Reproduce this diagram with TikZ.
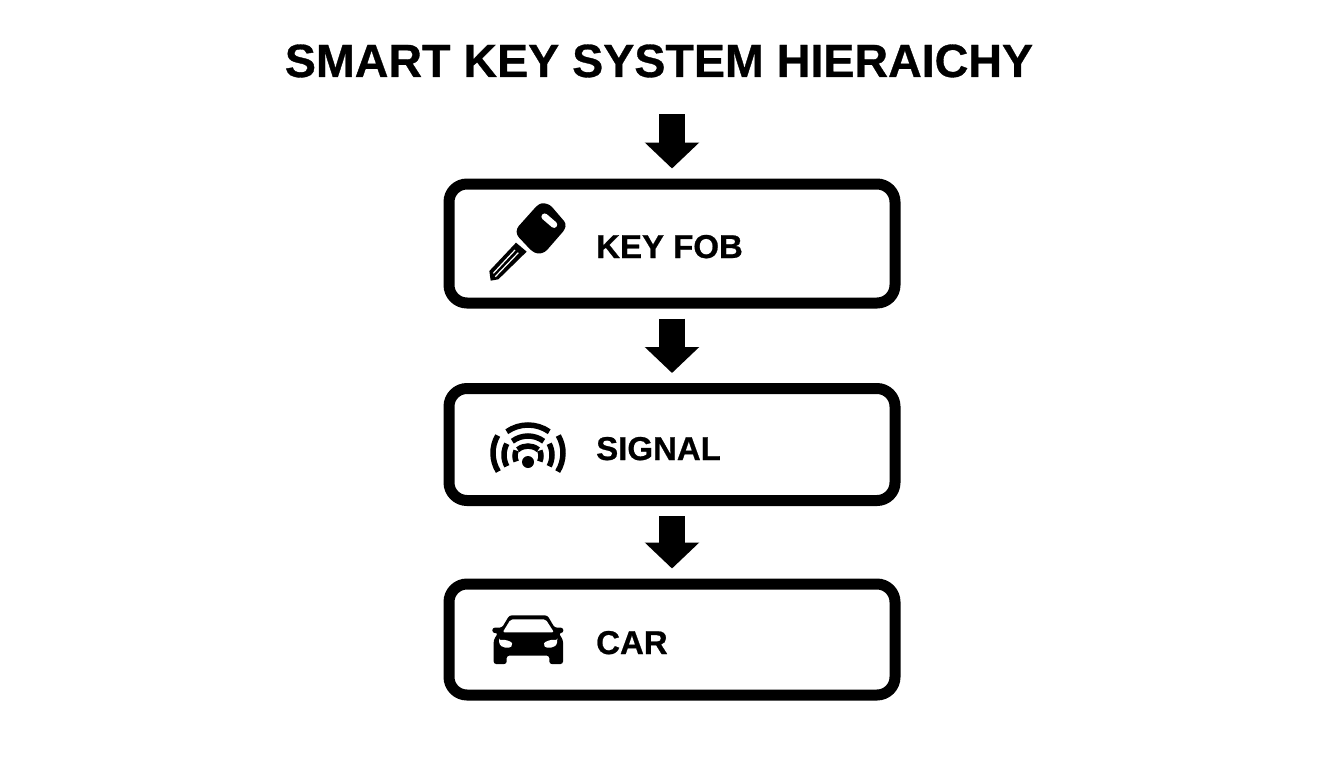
\documentclass[tikz,border=0pt]{standalone}
\usepackage{fontspec}
\setmainfont{Liberation Sans}[BoldFeatures={FakeBold=0.7}]
\usetikzlibrary{arrows.meta}
\tikzset{
  stagebox/.style={draw=black,fill=white,line width=11pt,rounded corners=18pt,minimum width=446pt,inner sep=0pt},
  flowarrow/.style={line width=26pt,draw=black,-{Triangle[width=53pt,length=26pt]},shorten >=10pt,shorten <=10pt},
  boxlabel/.style={anchor=base west,inner sep=0pt,font=\fontsize{33}{36}\selectfont\bfseries},
  wave/.style={draw=black,line width=5.5pt}
}
\begin{document}
\begin{tikzpicture}[x=1pt,y=-1pt]
\useasboundingbox (0,0) rectangle (1344,768);
\fill[white] (0,0) rectangle (1344,768);
\node[anchor=base,inner sep=0pt,font=\fontsize{46.6}{50}\selectfont\bfseries] (title) at (659,77) {SMART KEY SYSTEM HIERAICHY};
\node[stagebox,minimum height=119pt] (fob) at (672,243.5) {};
\node[stagebox,minimum height=112pt] (signal) at (672,444.5) {};
\node[stagebox,minimum height=111pt] (car) at (672,639.5) {};
\coordinate (start) at (672,104);
\draw[flowarrow] (start) -- (fob.north);
\draw[flowarrow] (fob.south) -- (signal.north);
\draw[flowarrow] (signal.south) -- (car.north);
\node[boxlabel] (l1) at (596,258) {KEY FOB};
\node[boxlabel] (l2) at (596,460) {SIGNAL};
\node[boxlabel] (l3) at (596,654) {CAR};
% key
\begin{scope}[shift={(470,190)},scale=1/3]
\fill[black] (58,243) -- (138,158) -- (170,185) -- (85,268) -- (62,272) -- cycle;
\fill[black,rounded corners=3pt] (215,38) -- (240,44) -- (288,100) -- (285,118) -- (225,187) -- (203,192) -- (185,183) -- (140,135) -- (140,115) -- (200,48) -- cycle;
\draw[white,line width=1.2pt] (70,250) -- (135,180);
\draw[white,line width=1.2pt] (76,260) -- (145,188);
\draw[white,line width=6.5pt,line cap=round] (224,80) -- (252,104);
\end{scope}
% signal
\draw[wave] (528,462) ++(-55:37) arc[start angle=-55,end angle=-125,radius=37];
\draw[wave] (528,462) ++(-53:26) arc[start angle=-53,end angle=-127,radius=26];
\draw[wave] (528,462) ++(-50:16) arc[start angle=-50,end angle=-130,radius=16];
\draw[wave] (528,453) ++(-150:35) arc[start angle=-150,end angle=-212,radius=35];
\draw[wave] (528,453) ++(-30:35) arc[start angle=-30,end angle=32,radius=35];
\draw[wave] (528,455) ++(-152:24) arc[start angle=-152,end angle=-208,radius=24];
\draw[wave] (528,455) ++(-28:24) arc[start angle=-28,end angle=28,radius=24];
\draw[wave] (528,456) ++(-155:13) arc[start angle=-155,end angle=-205,radius=13];
\draw[wave] (528,456) ++(-25:13) arc[start angle=-25,end angle=25,radius=13];
\fill[black] (528,462) circle (6);
% car
\begin{scope}[shift={(480,605)},scale=1/3]
\fill[black,rounded corners=2.5pt] (88,31) -- (202,31) -- (224,68) -- (250,68) -- (250,84) -- (236,84) -- (249,105) -- (249,177) -- (208,177) -- (208,152) -- (80,152) -- (80,177) -- (41,177) -- (41,105) -- (54,84) -- (37,84) -- (37,68) -- (66,68) -- cycle;
\fill[white,rounded corners=2pt] (92,43) -- (197,43) -- (222,82) -- (68,82) -- cycle;
\fill[white,rounded corners=2pt] (57,106) .. controls (75,102) and (95,110) .. (98,120) .. controls (90,130) and (60,132) .. (57,106) -- cycle;
\fill[white,rounded corners=2pt] (232,106) .. controls (214,102) and (194,110) .. (190,120) .. controls (198,130) and (229,132) .. (232,106) -- cycle;
\end{scope}
\end{tikzpicture}
\end{document}
